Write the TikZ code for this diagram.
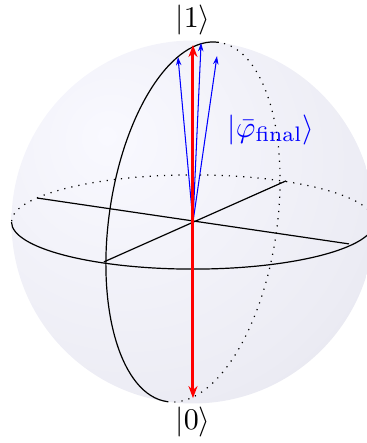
\documentclass[tikz,border=0pt]{standalone}
\usepackage{amsmath}
\usepackage{amssymb}
\usepackage{tikz}
\usetikzlibrary{
    arrows.meta
}
\usepackage{xcolor}
\definecolor{shadein}{RGB}{249,249,255}
\definecolor{shademid}{RGB}{236,236,244}
\definecolor{shadeout}{RGB}{213,213,223}
\pgfdeclareradialshading{blochshade}{\pgfpoint{-12bp}{12bp}}{%
    color(0bp)=(shadein);
    color(33bp)=(shademid);
    color(67bp)=(shadeout);
    color(100bp)=(shadeout)}

\begin{document}
\begin{tikzpicture}[
        x=1pt,
        y=1pt,
        >=Stealth,
        axis/.style={
            black,
            line width=0.4pt
        },
        hidden/.style={
            dotted,
            line width=0.4pt
        },
        basis/.style={
            -{Stealth[length=4pt,width=3pt]},
            red,
            line width=1pt
        },
        state/.style={
            -{Stealth[length=2.8pt,width=1.8pt]},
            blue,
            line width=0.35pt
        }
    ]
        \useasboundingbox (-64.33,-73.67) rectangle (58,74);
        \coordinate (O) at (0,0);
        \shade[shading=blochshade] (O) circle[radius=60.5pt];
        \draw[axis] (-60.5,0)
            arc[start angle=180, end angle=360, x radius=60.5pt, y radius=15.7pt];
        \draw[hidden] (60.5,0)
            arc[start angle=0, end angle=180, x radius=60.5pt, y radius=15.7pt];
        \draw[axis, rotate=-8.2] (0,60.5)
            arc[start angle=90, end angle=270, x radius=28pt, y radius=60.5pt];
        \draw[hidden, rotate=-8.2] (0,-60.5)
            arc[start angle=270, end angle=450, x radius=28pt, y radius=60.5pt];
        \coordinate (xL) at (-52,8);
        \coordinate (xR) at (52,-7.3);
        \coordinate (yL) at (-29.7,-13.3);
        \coordinate (yR) at (31,13.7);
        \draw[axis] (xL) -- (xR);
        \draw[axis] (yL) -- (yR);
        \coordinate (psiA) at (-5,55);
        \coordinate (psiB) at (2.7,59.7);
        \coordinate (psiC) at (8,55.3);
        \draw[state] (O) -- (psiA);
        \draw[state] (O) -- (psiB);
        \draw[state] (O) -- (psiC);
        \coordinate (N) at (0,59);
        \coordinate (S) at (0,-58.7);
        \draw[basis] (O) -- (N);
        \draw[basis] (O) -- (S);
        \node (ket1) at (0,67.3) {$|1\rangle$};
        \node (ket0) at (0,-66.7) {$|0\rangle$};
        \node[blue] (phi) at (26,30.7) {$|\bar{\varphi}_{\text{final}}\rangle$};
    \end{tikzpicture}
\end{document}
